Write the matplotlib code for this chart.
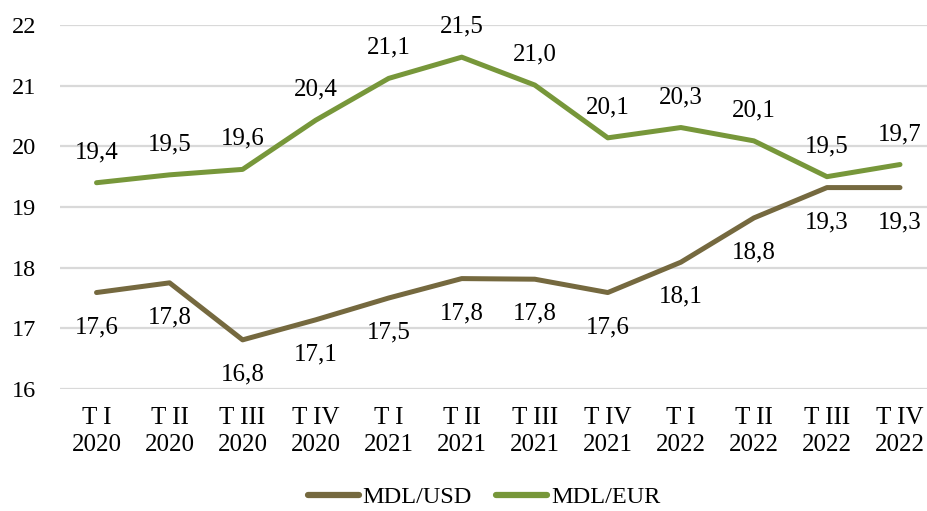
import matplotlib
matplotlib.use("Agg")
import matplotlib.pyplot as plt

categories = ["T I\n2020", "T II\n2020", "T III\n2020", "T IV\n2020",
              "T I\n2021", "T II\n2021", "T III\n2021", "T IV\n2021",
              "T I\n2022", "T II\n2022", "T III\n2022", "T IV\n2022"]
usd = [17.59, 17.75, 16.81, 17.14, 17.50, 17.82, 17.81, 17.59, 18.09, 18.82, 19.32, 19.32]
eur = [19.40, 19.53, 19.62, 20.43, 21.12, 21.47, 21.01, 20.14, 20.31, 20.09, 19.50, 19.70]
usd_labels = ["17,6", "17,8", "16,8", "17,1", "17,5", "17,8", "17,8", "17,6", "18,1", "18,8", "19,3", "19,3"]
eur_labels = ["19,4", "19,5", "19,6", "20,4", "21,1", "21,5", "21,0", "20,1", "20,3", "20,1", "19,5", "19,7"]
yticks = [16, 17, 18, 19, 20, 21, 22]

plt.rcParams['font.family'] = ['Liberation Serif', 'DejaVu Serif']

W, H = 927, 511
fig = plt.figure(figsize=(W / 100, H / 100), dpi=100)
left, right, top, bottom = 60, 936.5, 25, 389
ax = fig.add_axes([left / W, (H - bottom) / H, (right - left) / W, (bottom - top) / H])

c_usd = "#75693F"
c_eur = "#77973A"
x = list(range(len(categories)))
ax.plot(x, usd, color=c_usd, lw=3.6, solid_capstyle='round', solid_joinstyle='round', label="MDL/USD", zorder=3)
ax.plot(x, eur, color=c_eur, lw=3.6, solid_capstyle='round', solid_joinstyle='round', label="MDL/EUR", zorder=3)

for xi, v, t in zip(x, eur, eur_labels):
    ax.annotate(t, (xi, v), xytext=(0, 22), textcoords='offset points',
                ha='center', va='center', fontsize=18, color='black')
for xi, v, t in zip(x, usd, usd_labels):
    ax.annotate(t, (xi, v), xytext=(0, -25), textcoords='offset points',
                ha='center', va='center', fontsize=18, color='black')

ax.set_xlim(-0.5, len(categories) - 0.5)
ax.set_ylim(16, 22)
ax.set_yticks(yticks)
ax.set_yticklabels([str(t) for t in yticks], fontsize=17.5)
ax.set_xticks(x)
ax.set_xticklabels(categories, fontsize=18, linespacing=1.3)
ax.tick_params(axis='both', length=0)
ax.tick_params(axis='y', pad=17)
ax.tick_params(axis='x', pad=13)
ax.grid(axis='y', color='#D9D9D9', lw=1.6, zorder=0)
for s in ax.spines.values():
    s.set_visible(False)

fig.legend(loc='center', bbox_to_anchor=(484 / W, 1 - 497 / H), ncol=2, frameon=False,
           fontsize=17.5, handlelength=2.1, handletextpad=0.15, columnspacing=1.0)
for lh in fig.legends[0].get_lines():
    lh.set_linewidth(4.5)

fig.savefig("out.png", dpi=100)
